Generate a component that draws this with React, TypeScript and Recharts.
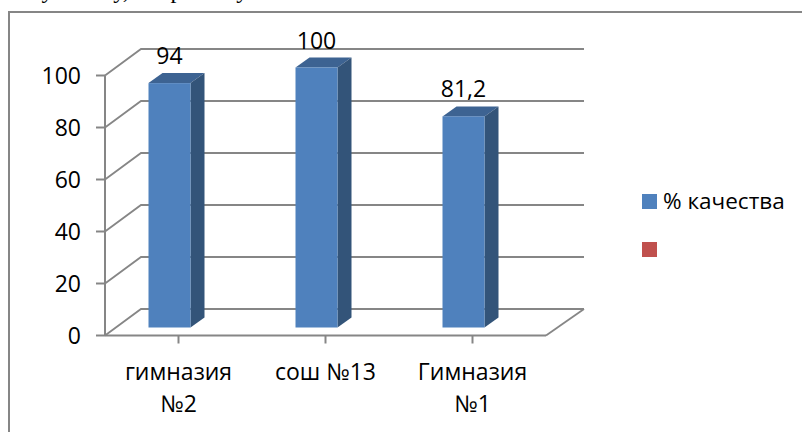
import { Bar, BarChart, CartesianGrid, LabelList, Legend, XAxis, YAxis } from "recharts";

const CATEGORIES = ["гимназия №2", "сош №13", "Гимназия №1"];
const QUALITY = [94, 100, 81.2];
const Y_TICKS = [0, 20, 40, 60, 80, 100];
const SERIES_NAME = "% качества";
const HEADER_TEXT = "она ученику, набрали лучшие баллы:";

const FONT = "'Open Sans', sans-serif";
const GREY = "#868686";

// offset of the back wall and of the bars from the front plane
const WALL_DX = 36;
const WALL_DY = -26.5;
const BAR_DX = -9.5;
const BAR_DY = -8;
const SIDE_DX = 14;
const SIDE_DY = -10;

const data = CATEGORIES.map((name, i) => ({ name, quality: QUALITY[i], empty: null }));

function wallLine(props: any) {
  const { x1, y1, x2, index } = props;
  const isFloor = y1 > 300;
  return (
    <g key={`wall-${index ?? y1}`}>
      <path
        d={`M${x1},${y1} L${x1 + WALL_DX},${y1 + WALL_DY} L${x2 + WALL_DX + 2},${y1 + WALL_DY}`}
        fill="none"
        stroke={GREY}
        strokeWidth={1.8}
      />
      {isFloor && (
        <path
          d={`M${x2},${y1} L${x2 + WALL_DX + 2},${y1 + WALL_DY}`}
          fill="none"
          stroke={GREY}
          strokeWidth={1.8}
        />
      )}
    </g>
  );
}

function Box3D(props: any) {
  const { x, y, width, height } = props;
  if (!height) return null;
  const l = x + BAR_DX;
  const t = y + BAR_DY;
  const r = l + width;
  const b = t + height;
  return (
    <g>
      <path d={`M${l},${t} L${l + SIDE_DX},${t + SIDE_DY} L${r + SIDE_DX},${t + SIDE_DY} L${r},${t} Z`} fill="#3D6392" />
      <path d={`M${r},${t} L${r + SIDE_DX},${t + SIDE_DY} L${r + SIDE_DX},${b + SIDE_DY} L${r},${b} Z`} fill="#335479" />
      <rect x={l} y={t} width={width} height={height} fill="#4F81BD" />
    </g>
  );
}

function BarValue(props: any) {
  const { x, y, width, value } = props;
  return (
    <text
      x={x + width / 2 + BAR_DX}
      y={y + BAR_DY - 19}
      textAnchor="middle"
      fontFamily={FONT}
      fontSize={23}
      fill="#000"
    >
      {String(value).replace(".", ",")}
    </text>
  );
}

// long names go on two lines, short ones stay on one
function CategoryTick(props: any) {
  const { x, y, payload } = props;
  const lines = payload.value.length > 8 ? payload.value.split(" ") : [payload.value];
  return (
    <text x={x} y={y + 34} textAnchor="middle" fontFamily={FONT} fontSize={23} fill="#000">
      {lines.map((line: string, i: number) => (
        <tspan key={line} x={x} dy={i === 0 ? 0 : 32}>
          {line}
        </tspan>
      ))}
    </text>
  );
}

export default function App() {
  return (
    <div style={{ position: "absolute", left: 0, top: 0, width: 802, height: 432, overflow: "hidden", background: "#fff" }}>
      <div
        style={{
          position: "absolute",
          left: 0,
          top: -23,
          whiteSpace: "nowrap",
          fontFamily: "'Liberation Serif', serif",
          fontSize: 24,
          color: "#000",
        }}
      >
        {HEADER_TEXT}
      </div>
      <div
        style={{
          position: "absolute",
          left: 8,
          top: 11,
          width: 900,
          height: 600,
          border: `2px solid ${GREY}`,
          background: "#fff",
        }}
      />
      <div style={{ position: "absolute", left: 0, top: 0 }}>
        <BarChart
          width={802}
          height={432}
          data={data}
          margin={{ left: 45, top: 75.5, right: 96, bottom: 56.5 }}
          barSize={42}
        >
          <CartesianGrid vertical={false} horizontal={wallLine} />
          <XAxis
            dataKey="name"
            interval={0}
            height={40}
            tickSize={8}
            tick={CategoryTick}
            axisLine={{ stroke: GREY, strokeWidth: 2 }}
            tickLine={{ stroke: GREY, strokeWidth: 2 }}
          />
          <YAxis
            width={60}
            domain={[0, 100]}
            ticks={Y_TICKS}
            tickSize={9}
            tickMargin={15}
            tick={{ fontFamily: FONT, fontSize: 23, fill: "#000" }}
            axisLine={{ stroke: GREY, strokeWidth: 2 }}
            tickLine={{ stroke: GREY, strokeWidth: 2 }}
          />
          <Legend
            layout="vertical"
            align="right"
            verticalAlign="top"
            iconType="square"
            iconSize={15}
            itemSorter={null}
            wrapperStyle={{ left: 642, top: 177, width: 160, right: "auto", fontFamily: FONT, fontSize: 22.5 }}
            formatter={(value: string) => (
              <span
                style={{
                  color: "#000",
                  display: "inline-block",
                  height: 48,
                  lineHeight: "48px",
                  verticalAlign: "middle",
                  marginLeft: 2,
                }}
              >
                {value}
              </span>
            )}
          />
          <Bar dataKey="quality" name={SERIES_NAME} stackId="s" fill="#4F81BD" shape={Box3D} isAnimationActive={false}>
            <LabelList dataKey="quality" content={BarValue} />
          </Bar>
          <Bar dataKey="empty" name=" " stackId="s" fill="#C0504D" isAnimationActive={false} />
        </BarChart>
      </div>
    </div>
  );
}
